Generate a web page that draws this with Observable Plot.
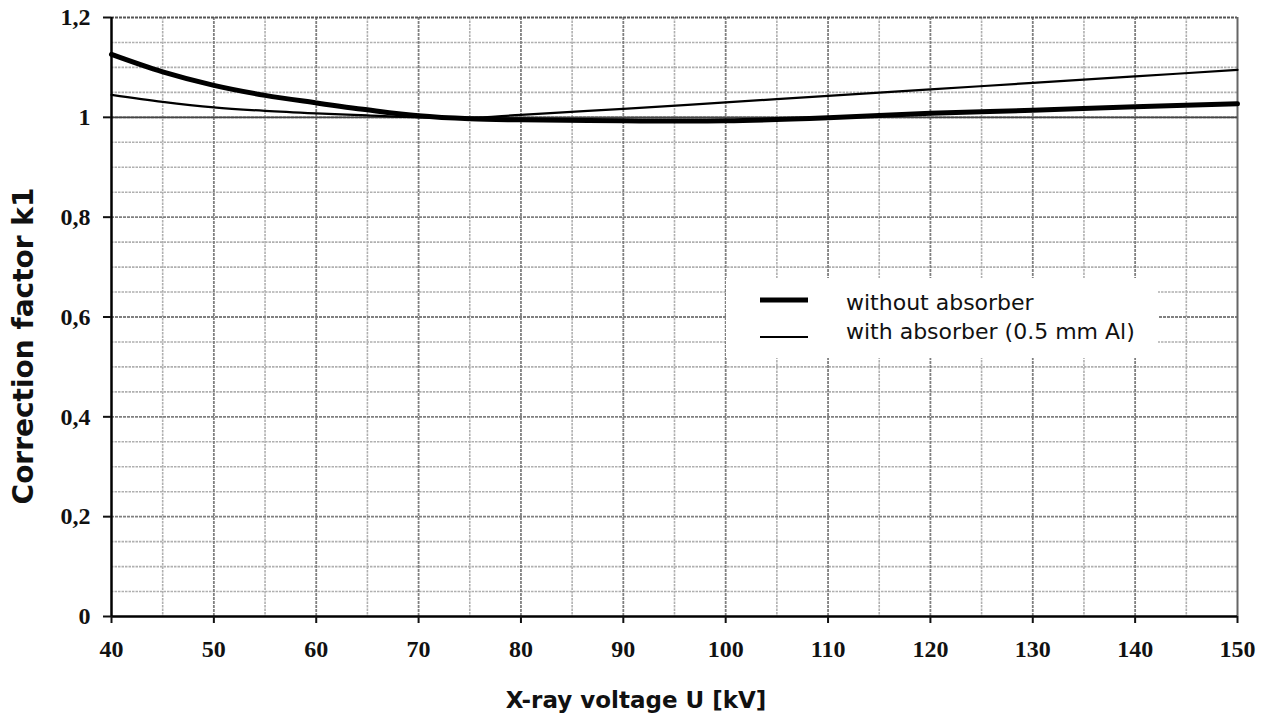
<!DOCTYPE html>
<html><head><meta charset="utf-8">
<script src="https://cdn.jsdelivr.net/npm/d3@7"></script>
<script src="https://cdn.jsdelivr.net/npm/@observablehq/plot@0.6"></script>
<style>
html,body{margin:0;padding:0;background:#fff;}
#chart{position:relative;width:1269px;height:717px;overflow:hidden;}
</style></head><body><div id="chart"></div>
<script>
// ---- data ----
const voltages        = [40, 45, 50, 55, 60, 65, 70, 75, 80, 90, 100, 110, 120, 130, 140, 150];
const withoutAbsorber = [1.126, 1.091, 1.064, 1.044, 1.029, 1.015, 1.003, 0.997, 0.995, 0.993, 0.993, 0.999, 1.008, 1.014, 1.021, 1.027];
const withAbsorber    = [1.045, 1.031, 1.020, 1.013, 1.008, 1.004, 1.000, 0.999, 1.005, 1.017, 1.030, 1.043, 1.056, 1.069, 1.082, 1.095];
const seriesNames     = ["without absorber", "with absorber (0.5 mm Al)"];
const xTicks          = [40, 50, 60, 70, 80, 90, 100, 110, 120, 130, 140, 150];
const yTicks          = [0, 0.2, 0.4, 0.6, 0.8, 1, 1.2];
const gridXMinor      = [45, 55, 65, 75, 85, 95, 105, 115, 125, 135, 145];
const gridXMajor      = [50, 60, 70, 80, 90, 100, 110, 120, 130, 140];
const gridYMinor      = [0.05, 0.1, 0.15, 0.25, 0.3, 0.35, 0.45, 0.5, 0.55, 0.65, 0.7, 0.75, 0.85, 0.9, 0.95, 1.05, 1.1, 1.15];
const gridYMajor      = [0.2, 0.4, 0.6, 0.8, 1.0];
const xTitle          = "X-ray voltage U [kV]";
const yTitle          = "Correction factor k1";

const rows = [];
voltages.forEach((v, i) => {
  rows.push({u: v, k: withoutAbsorber[i], s: seriesNames[0]});
  rows.push({u: v, k: withAbsorber[i], s: seriesNames[1]});
});
const fmt = d => String(d).replace(".", ",");

const W = 1269, H = 717;
const plot = Plot.plot({
  width: W, height: H,
  marginLeft: 111, marginRight: 32, marginTop: 17, marginBottom: 101,
  x: {domain: [40, 150], axis: null},
  y: {domain: [0, 1.2], axis: null},
  style: {background: "#fff", color: "#111", fontFamily: "Liberation Serif", fontSize: "24px", fontWeight: "bold"},
  marks: [
    Plot.ruleY(gridYMinor, {stroke: "#b0b0b0", strokeWidth: 1.6, strokeDasharray: "2.5,1"}),
    Plot.ruleX(gridXMinor, {stroke: "#b0b0b0", strokeWidth: 1.6, strokeDasharray: "2.5,1"}),
    Plot.ruleY(gridYMajor, {stroke: "#808080", strokeWidth: 1.8, strokeDasharray: "3,1"}),
    Plot.ruleX(gridXMajor, {stroke: "#808080", strokeWidth: 1.8, strokeDasharray: "3,1"}),
    Plot.ruleY([1.2], {stroke: "#555", strokeWidth: 2, strokeDasharray: "3,1"}),
    Plot.ruleX([150], {stroke: "#666", strokeWidth: 2}),
    Plot.ruleY([1.0], {stroke: "#444", strokeWidth: 1.8}),
    Plot.line(rows.filter(d => d.s === seriesNames[1]), {x: "u", y: "k", stroke: "#000", strokeWidth: 2.2, curve: "catmull-rom"}),
    Plot.line(rows.filter(d => d.s === seriesNames[0]), {x: "u", y: "k", stroke: "#000", strokeWidth: 5, curve: "catmull-rom"}),
    Plot.ruleX([40], {stroke: "#000", strokeWidth: 2.5}),
    Plot.ruleY([0], {stroke: "#000", strokeWidth: 2.5}),
    Plot.axisX({ticks: xTicks, tickSize: 7, tickPadding: 16, strokeWidth: 2, label: null,
                fontSize: 24, fontFamily: "Liberation Serif", fontWeight: "bold", fill: "#111"}),
    Plot.axisY({ticks: yTicks, tickSize: 8, tickPadding: 13, strokeWidth: 2, label: null, tickFormat: fmt,
                fontSize: 24, fontFamily: "Liberation Serif", fontWeight: "bold", fill: "#111"})
  ]
});
document.getElementById("chart").appendChild(plot);

// ---- titles and legend ----
const svg = d3.select(plot);
svg.append("text")
  .attr("x", 636).attr("y", 708)
  .attr("text-anchor", "middle")
  .attr("font-family", "DejaVu Sans").attr("font-weight", "bold").attr("font-size", 23)
  .attr("fill", "#111")
  .text(xTitle);
svg.append("text")
  .attr("transform", "translate(33,346) rotate(-90)")
  .attr("text-anchor", "middle")
  .attr("font-family", "DejaVu Sans").attr("font-weight", "bold").attr("font-size", 28)
  .attr("fill", "#111")
  .text(yTitle);

const lg = svg.append("g");
lg.append("rect").attr("x", 726).attr("y", 278).attr("width", 432).attr("height", 80).attr("fill", "#fff");
const legendItems = [
  {name: seriesNames[0], w: 5, ly: 300, ty: 310},
  {name: seriesNames[1], w: 2.2, ly: 337, ty: 339}
];
legendItems.forEach(it => {
  lg.append("line").attr("x1", 760).attr("x2", 808).attr("y1", it.ly).attr("y2", it.ly)
    .attr("stroke", "#000").attr("stroke-width", it.w);
  lg.append("text").attr("x", 846).attr("y", it.ty)
    .attr("text-anchor", "start")
    .attr("font-family", "DejaVu Sans").attr("font-size", 22).attr("font-weight", "normal")
    .attr("fill", "#111").text(it.name);
});
</script>
</body></html>
